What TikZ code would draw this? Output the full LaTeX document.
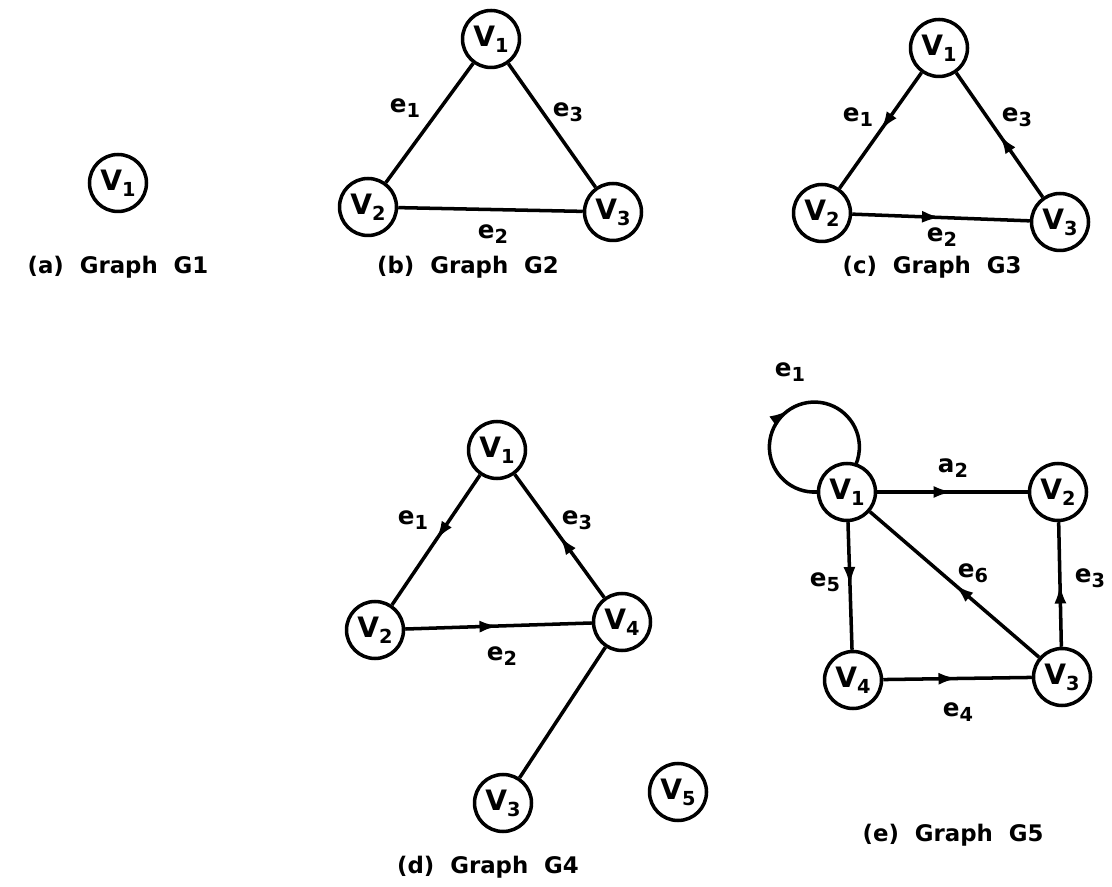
\documentclass[tikz,border=0pt]{standalone}
\usepackage{fontspec}
\setmainfont{DejaVu Sans}
\usetikzlibrary{arrows.meta, decorations.markings}
\newcommand{\vsub}[2]{#1\raisebox{-0.4ex}{\fontsize{11}{11}\selectfont #2}}
\tikzset{
    vertex/.style={circle, draw, line width=2pt, minimum size=1.14cm, inner sep=0pt, font=\fontsize{16}{16}\selectfont\bfseries},
    edge/.style={line width=2pt},
    arc/.style={edge, postaction={decorate}, decoration={markings, mark=at position 0.5 with {\arrow{Latex[length=3.8mm,width=2.4mm]}}}},
    elabel/.style={font=\fontsize{14}{14}\selectfont\bfseries},
    caption/.style={font=\fontsize{13}{13}\selectfont\bfseries}
}

\begin{document}
\begin{tikzpicture}[x=0.02cm, y=0.02cm]
    \useasboundingbox (0,0) rectangle (1112,886);
    % (a) Graph G1
    \node[vertex] (aV1) at (118,703) {\vsub{V}{1}};
    \node[caption] (acap) at (118,619) {(a)\ \ Graph\ \ G1};
    % (b) Graph G2
    \node[vertex] (bV1) at (491,847) {\vsub{V}{1}};
    \node[vertex] (bV2) at (368,679) {\vsub{V}{2}};
    \node[vertex] (bV3) at (613,674) {\vsub{V}{3}};
    \draw[edge] (bV1) -- (bV2);
    \draw[edge] (bV2) -- (bV3);
    \draw[edge] (bV1) -- (bV3);
    \node[elabel] (be1) at (405,778) {\vsub{e}{1}};
    \node[elabel] (be3) at (568,774) {\vsub{e}{3}};
    \node[elabel] (be2) at (493,652) {\vsub{e}{2}};
    \node[caption] (bcap) at (468,619) {(b)\ \ Graph\ \ G2};
    % (c) Graph G3
    \node[vertex] (cV1) at (939,838) {\vsub{V}{1}};
    \node[vertex] (cV2) at (822,673) {\vsub{V}{2}};
    \node[vertex] (cV3) at (1060,664) {\vsub{V}{3}};
    \draw[arc] (cV1) -- (cV2);
    \draw[arc] (cV2) -- (cV3);
    \draw[arc] (cV3) -- (cV1);
    \node[elabel] (ce1) at (858,769) {\vsub{e}{1}};
    \node[elabel] (ce3) at (1017,769) {\vsub{e}{3}};
    \node[elabel] (ce2) at (942,649) {\vsub{e}{2}};
    \node[caption] (ccap) at (932,619) {(c)\ \ Graph\ \ G3};
    % (d) Graph G4
    \node[vertex] (dV1) at (497,436) {\vsub{V}{1}};
    \node[vertex] (dV2) at (375,256) {\vsub{V}{2}};
    \node[vertex] (dV4) at (622,264) {\vsub{V}{4}};
    \node[vertex] (dV3) at (503,83) {\vsub{V}{3}};
    \node[vertex] (dV5) at (678,94) {\vsub{V}{5}};
    \draw[arc] (dV1) -- (dV2);
    \draw[arc] (dV2) -- (dV4);
    \draw[arc] (dV4) -- (dV1);
    \draw[edge] (dV4) -- (dV3);
    \node[elabel] (de1) at (413,366) {\vsub{e}{1}};
    \node[elabel] (de3) at (577,366) {\vsub{e}{3}};
    \node[elabel] (de2) at (502,230) {\vsub{e}{2}};
    \node[caption] (dcap) at (488,19) {(d)\ \ Graph\ \ G4};
    % (e) Graph G5
    \node[vertex] (eV1) at (847,394) {\vsub{V}{1}};
    \node[vertex] (eV2) at (1058,394) {\vsub{V}{2}};
    \node[vertex] (eV4) at (853,206) {\vsub{V}{4}};
    \node[vertex] (eV3) at (1062,209) {\vsub{V}{3}};
    \draw[arc] (eV1.west) arc[start angle=273, end angle=-22.5, radius=45];
    \draw[arc] (eV1) -- (eV2);
    \draw[arc] (eV3) -- (eV2);
    \draw[arc] (eV4) -- (eV3);
    \draw[arc] (eV1) -- (eV4);
    \draw[arc] (eV3) -- (eV1);
    \node[elabel] (ee1) at (790,514) {\vsub{e}{1}};
    \node[elabel] (ee2) at (953,418) {\vsub{a}{2}};
    \node[elabel] (ee6) at (973,313) {\vsub{e}{6}};
    \node[elabel] (ee5) at (825,304) {\vsub{e}{5}};
    \node[elabel] (ee3) at (1090,308) {\vsub{e}{3}};
    \node[elabel] (ee4) at (958,174) {\vsub{e}{4}};
    \node[caption] (ecap) at (953,51) {(e)\ \ Graph\ \ G5};
\end{tikzpicture}
\end{document}
